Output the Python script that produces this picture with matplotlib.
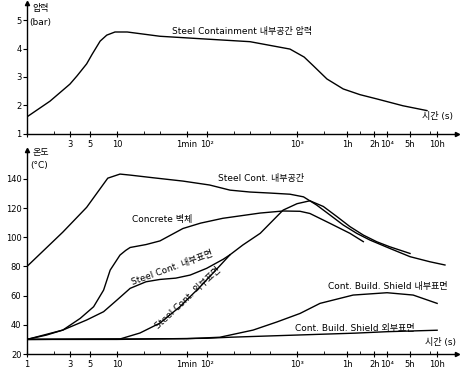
import matplotlib
matplotlib.use("Agg")
import matplotlib.pyplot as plt

plt.rcParams['font.family'] = ['DejaVu Sans', 'Noto Sans CJK KR']

# --- data (time in s) ---
t_press = [1, 1.8, 3, 3.6, 4.6, 5.3, 6.5, 7.7, 9.5, 13, 30, 100, 300, 835, 1200, 1510, 2150, 3260, 5000, 7700, 15000, 27800]
p_steel = [1.6, 2.15, 2.75, 3.04, 3.46, 3.8, 4.26, 4.47, 4.58, 4.58, 4.43, 4.33, 4.24, 3.98, 3.70, 3.40, 2.93, 2.58, 2.38, 2.23, 1.99, 1.82]

t_gas = [1, 2.5, 4.6, 7.9, 10.8, 14, 25, 54, 107, 180, 300, 500, 836, 1180, 1650, 2330, 3260, 4600, 6450, 10700, 18000, 30000, 44000]
T_gas = [80, 103.5, 120.5, 140.5, 143.3, 142.6, 140.8, 138.5, 135.8, 132.3, 131, 130.3, 129.5, 127.7, 122.1, 115.2, 108.4, 102.7, 98.1, 92.4, 86.7, 83.2, 81]

t_conc = [1, 2.5, 3.9, 5.5, 7.1, 8.4, 10.8, 12.5, 14, 21, 30, 54, 85, 150, 390, 700, 1080, 1390, 2330, 3870, 5450]
T_conc = [30, 36.4, 44.4, 52.4, 63.8, 77.5, 87.8, 91, 93, 95, 97.5, 106, 109.7, 113, 116.6, 118, 117.8, 116.3, 109.5, 102.7, 97]

t_st_in = [1, 1.65, 2.5, 4.6, 7.1, 10, 14, 21, 30, 45, 65, 99, 152, 180, 250, 390, 700, 1000, 1390, 1960, 2770, 3870, 5450, 7700, 10700, 18000]
T_st_in = [30, 33, 36.4, 43.3, 49, 57, 65, 69.5, 71.1, 72, 74.1, 78.7, 85, 88, 94.7, 102.7, 118.6, 123, 125, 121.1, 114.2, 107.3, 101.5, 96.9, 93.5, 88.9]

t_st_out = [1, 10.8, 18, 30, 50, 84, 139, 180]
T_st_out = [30, 30.3, 34.4, 41.2, 52.4, 66.1, 80.5, 88]

t_sh_in = [1, 60, 139, 325, 600, 1080, 1800, 4200, 10000, 19500, 36000]
T_sh_in = [30, 30.5, 31.5, 36.4, 42, 47.8, 54.7, 60.4, 62, 60.4, 54.7]

t_sh_out = [1, 10, 100, 180, 1000, 4400, 10000, 36000]
T_sh_out = [30, 30, 30.8, 31.5, 33, 34.3, 35.3, 36.3]

tick_pos = [1, 3, 5, 10, 60, 100, 1000, 3600, 7200, 10000, 18000, 36000]
tick_lab = ['1', '3', '5', '10', '1min', '10²', '10³', '1h', '2h', '10⁴', '5h', '10h']
minor_pos = [2, 20, 30, 200, 300, 500, 2000, 5000, 30000]


def style_axis(ax, labels):
    ax.set_xscale('log')
    ax.set_xlim(1, 60000)
    ax.spines['top'].set_visible(False)
    ax.spines['right'].set_visible(False)
    for s in ('left', 'bottom'):
        ax.spines[s].set_linewidth(1.0)
    ax.set_xticks(tick_pos)
    ax.set_xticklabels(labels)
    ax.set_xticks(minor_pos, minor=True)
    ax.set_xticklabels([], minor=True)
    ax.tick_params(axis='x', which='major', direction='inout', length=4, width=0.8, labelsize=6, pad=2)
    ax.tick_params(axis='x', which='minor', direction='in', length=2, width=0.6)
    ax.tick_params(axis='y', direction='out', length=3, width=0.8, labelsize=6, pad=1)
    ax.plot([1], [0], marker='>', color='k', ms=3, transform=ax.transAxes, clip_on=False)
    ax.plot([0], [1], marker='^', color='k', ms=3, transform=ax.transAxes, clip_on=False)


fig = plt.figure(figsize=(4.65, 3.68), dpi=100)
ax1 = fig.add_axes([0.058, 0.636, 0.925, 0.356])
ax2 = fig.add_axes([0.058, 0.038, 0.925, 0.554])

# pressure panel
ax1.plot(t_press, p_steel, color='k', lw=1.0)
style_axis(ax1, [''] + tick_lab[1:])
ax1.set_ylim(1, 5.6)
ax1.set_yticks([1, 2, 3, 4, 5])
ax1.text(41, 4.6, 'Steel Containment 내부공간 압력', fontsize=6.5, va='center', ha='left')
ax1.text(54000, 1.6, '시간 (s)', fontsize=6.5, va='center', ha='right')
fig.text(32 / 465, 1 - 8 / 368, '압력', fontsize=6.5, va='center', ha='left')
fig.text(29 / 465, 1 - 22 / 368, '(bar)', fontsize=6.5, va='center', ha='left')

# temperature panel
for t, T in [(t_gas, T_gas), (t_conc, T_conc), (t_st_in, T_st_in),
             (t_st_out, T_st_out), (t_sh_in, T_sh_in), (t_sh_out, T_sh_out)]:
    ax2.plot(t, T, color='k', lw=1.0)
style_axis(ax2, tick_lab)
ax2.set_ylim(20, 159.7)
ax2.set_yticks([20, 40, 60, 80, 100, 120, 140])

ax2.text(132, 140.5, 'Steel Cont. 내부공간', fontsize=6.5, va='center', ha='left')
ax2.text(14.7, 112.5, 'Concrete 벽체', fontsize=6.5, va='center', ha='left')
ax2.text(41, 79, 'Steel Cont. 내부표면', fontsize=6.5, va='center', ha='center', rotation=20)
ax2.text(61, 58.4, 'Steel Cont. 외부표면', fontsize=6.5, va='center', ha='center', rotation=43)
ax2.text(10260, 66, 'Cont. Build. Shield 내부표면', fontsize=6.5, va='center', ha='center')
ax2.text(4400, 37.2, 'Cont. Build. Shield 외부표면', fontsize=6.5, va='center', ha='center')
ax2.text(58000, 28.2, '시간 (s)', fontsize=6.5, va='center', ha='right')
fig.text(32 / 465, 1 - 153 / 368, '온도', fontsize=6.5, va='center', ha='left')
fig.text(30 / 465, 1 - 165 / 368, '(°C)', fontsize=6.5, va='center', ha='left')

fig.savefig('out.png', dpi=100)
plt.close(fig)
